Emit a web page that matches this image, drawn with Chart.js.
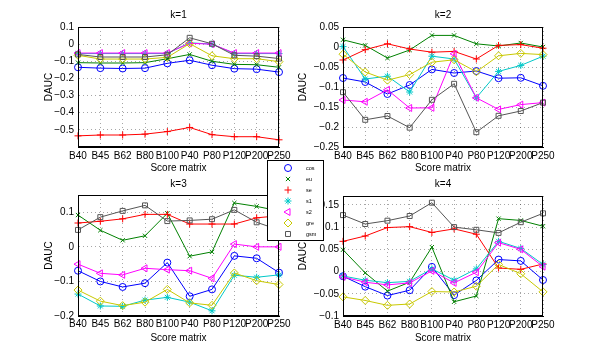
<!DOCTYPE html>
<html>
<head>
<meta charset="utf-8">
<script src="https://cdn.jsdelivr.net/npm/chart.js@4"></script>
<style>
  body { margin: 0; background: #fff; }
  #wrap { position: relative; width: 600px; height: 356px; overflow: hidden; font-family: "Liberation Sans", Arial, sans-serif; }
  canvas.panel { position: absolute; }
  #legend { position: absolute; left: 267px; top: 160px; width: 55px; height: 79px; background: #fff; border: 1px solid #000; z-index: 5; }
  #legend canvas { position: absolute; left: 0; top: 0; }
  #legend span { position: absolute; left: 38px; font-size: 5.5px; line-height: 6px; color: #000; }
</style>
</head>
<body>
<div id="wrap">
  <canvas id="c1" class="panel" width="300" height="178" style="left:0;top:0"></canvas>
  <canvas id="c2" class="panel" width="310" height="178" style="left:290px;top:0"></canvas>
  <canvas id="c3" class="panel" width="300" height="178" style="left:0;top:170px"></canvas>
  <canvas id="c4" class="panel" width="310" height="178" style="left:290px;top:170px"></canvas>
  <div id="legend"><canvas id="legendMarks" width="55" height="79"></canvas></div>
</div>
<script>
// x categories and series names
const categories = ['B40', 'B45', 'B62', 'B80', 'B100', 'P40', 'P80', 'P120', 'P200', 'P250'];
const seriesNames = ['cos', 'eu', 'se', 's1', 's2', 'gre', 'gsm'];

// k=1
const k1Cos = [-0.135, -0.14, -0.142, -0.14, -0.112, -0.094, -0.123, -0.143, -0.146, -0.163];
const k1Eu  = [-0.108, -0.11, -0.11, -0.108, -0.085, -0.06, -0.1, -0.118, -0.12, -0.135];
const k1Se  = [-0.535, -0.53, -0.53, -0.525, -0.51, -0.486, -0.528, -0.54, -0.54, -0.558];
const k1S1  = [-0.055, -0.055, -0.055, -0.055, -0.055, 0.008, 0.0, -0.055, -0.055, -0.055];
const k1S2  = [-0.052, -0.052, -0.052, -0.052, -0.052, 0.005, 0.0, -0.052, -0.052, -0.052];
const k1Gre = [-0.065, -0.087, -0.087, -0.087, -0.077, 0.003, -0.068, -0.085, -0.085, -0.102];
const k1Gsm = [-0.06, -0.075, -0.075, -0.075, -0.062, 0.037, 0.002, -0.065, -0.07, -0.084];

// k=2
const k2Cos = [-0.0775, -0.0875, -0.1175, -0.095, -0.056, -0.065, -0.06, -0.078, -0.077, -0.097];
const k2Eu  = [0.018, 0.004, -0.0275, -0.0075, 0.029, 0.029, 0.008, 0.0025, 0.01, 0.0];
const k2Se  = [-0.0325, -0.0067, 0.008, -0.005, -0.013, -0.011, -0.03, 0.004, 0.006, -0.003];
const k2S1  = [0.001, -0.08, -0.073, -0.1125, -0.023, -0.03, -0.127, -0.061, -0.046, -0.023];
const k2S2  = [-0.1325, -0.137, -0.107, -0.1525, -0.152, -0.017, -0.127, -0.156, -0.144, -0.139];
const k2Gre = [-0.018, -0.0625, -0.083, -0.069, -0.038, -0.032, -0.062, -0.022, -0.016, -0.019];
const k2Gsm = [-0.113, -0.182, -0.1725, -0.2017, -0.132, -0.092, -0.213, -0.172, -0.16, -0.139];

// k=3
const k3Cos = [-0.069, -0.1, -0.116, -0.105, -0.0455, -0.143, -0.123, -0.026, -0.033, -0.0745];
const k3Eu  = [0.092, 0.048, 0.019, 0.032, 0.097, -0.027, -0.0145, 0.127, 0.117, 0.104];
const k3Se  = [0.069, 0.074, 0.081, 0.094, 0.094, 0.066, 0.066, 0.066, 0.084, 0.09];
const k3S1  = [-0.1365, -0.171, -0.172, -0.154, -0.146, -0.16, -0.185, -0.082, -0.088, -0.081];
const k3S2  = [-0.05, -0.0765, -0.081, -0.062, -0.066, -0.069, -0.091, 0.008, 0.0, 0.0];
const k3Gre = [-0.125, -0.157, -0.17, -0.16, -0.123, -0.162, -0.169, -0.0755, -0.098, -0.109];
const k3Gsm = [0.049, 0.086, 0.104, 0.12, 0.0745, 0.0765, 0.08, 0.107, 0.071, 0.049];

// k=4
const k4Cos = [-0.0105, -0.034, -0.054, -0.042, 0.0105, -0.053, -0.02, 0.027, 0.024, -0.019];
const k4Eu  = [0.049, -0.003, -0.044, -0.024, 0.055, -0.068, -0.055, 0.119, 0.115, 0.102];
const k4Se  = [0.068, 0.08, 0.099, 0.101, 0.088, 0.096, 0.084, 0.008, 0.005, 0.017];
const k4S1  = [-0.01, -0.0195, -0.025, -0.022, 0.006, -0.0195, 0.006, 0.068, 0.052, 0.016];
const k4S2  = [-0.012, -0.024, -0.03, -0.0255, 0.0015, -0.0255, -0.0015, 0.065, 0.05, 0.011];
const k4Gre = [-0.057, -0.065, -0.076, -0.073, -0.045, -0.046, -0.033, 0.016, -0.005, -0.0457];
const k4Gsm = [0.127, 0.107, 0.1145, 0.125, 0.155, 0.1, 0.094, 0.087, 0.111, 0.131];

// marker/colour per series (matlab-ish)
const seriesStyles = [
  { color: '#0000ff', pointStyle: 'circle', radius: 3.5, rotation: 0 },
  { color: '#008000', pointStyle: 'crossRot', radius: 3, rotation: 0 },
  { color: '#ff0000', pointStyle: 'cross', radius: 3.5, rotation: 0 },
  { color: '#00c8c8', pointStyle: 'star', radius: 3.5, rotation: 0 },
  { color: '#ff00ff', pointStyle: 'triangle', radius: 4, rotation: -90 },
  { color: '#c8c800', pointStyle: 'rectRot', radius: 4, rotation: 0 },
  { color: '#555555', pointStyle: 'rect', radius: 3.5, rotation: 0 }
];

const FONT = { family: '"Liberation Sans", Arial, sans-serif', size: 10, lineHeight: 1.2 };

function fmt(v) {
  const r = Math.round(v * 1000) / 1000;
  if (Math.abs(r) < 1e-9) return '0';
  return String(r).replace('-', '\u2212');
}

// black box around the plot area, like matlab "box on"
const boxBorder = {
  id: 'boxBorder',
  afterDraw(chart) {
    const a = chart.chartArea, ctx = chart.ctx;
    ctx.save();
    ctx.strokeStyle = '#000';
    ctx.lineWidth = 1;
    ctx.strokeRect(Math.round(a.left) + 0.5, Math.round(a.top) + 0.5,
      Math.round(a.right - a.left) - 1, Math.round(a.bottom - a.top) - 1);
    ctx.restore();
  }
};

function makePanel(id, title, series, y, lay) {
  const datasets = series.map((vals, i) => {
    const s = seriesStyles[i];
    return {
      label: seriesNames[i],
      data: vals,
      borderColor: s.color,
      borderWidth: 1,
      pointStyle: s.pointStyle,
      pointRadius: s.radius,
      pointRotation: s.rotation,
      pointBorderColor: s.color,
      pointBackgroundColor: 'rgba(0,0,0,0)',
      pointBorderWidth: 1,
      tension: 0,
      clip: false,
      order: seriesNames.length - i
    };
  });

  return new Chart(document.getElementById(id), {
    type: 'line',
    data: { labels: categories, datasets: datasets },
    options: {
      responsive: false,
      animation: false,
      events: [],
      layout: { padding: { left: 0, right: lay.right, top: 0, bottom: 0 } },
      plugins: {
        legend: { display: false },
        tooltip: { enabled: false },
        title: {
          display: true, text: title, color: '#000', fullSize: false,
          font: Object.assign({}, FONT, { weight: 'normal' }),
          padding: { top: lay.titleTop, bottom: lay.titleBottom }
        }
      },
      scales: {
        x: {
          type: 'category',
          offset: false,
          grid: { color: 'rgba(0,0,0,0.35)', tickLength: 0, drawTicks: false },
          border: { color: '#000', dash: [1, 3], display: true },
          ticks: { color: '#000', font: FONT, autoSkip: false, maxRotation: 0, minRotation: 0, padding: lay.xTickPad },
          title: { display: true, text: 'Score matrix', color: '#000', font: FONT, padding: { top: 0, bottom: lay.xTitlePad } },
          afterFit: (scale) => { scale.height = lay.xHeight; }
        },
        y: {
          type: 'linear',
          min: y.min, max: y.max,
          grid: { color: 'rgba(0,0,0,0.35)', tickLength: 0, drawTicks: false },
          border: { color: '#000', dash: [1, 3] },
          ticks: {
            color: '#000', font: FONT, stepSize: y.step, includeBounds: false, autoSkip: false, padding: 4,
            callback: (v) => (y.hide.some(h => Math.abs(h - v) < 1e-9) ? '' : fmt(v))
          },
          title: { display: true, text: 'DAUC', color: '#000', font: FONT, padding: { top: lay.yTitlePad, bottom: 0 } },
          afterFit: (scale) => { scale.width = lay.yWidth; }
        }
      }
    },
    plugins: [boxBorder]
  });
}

makePanel('c1', 'k=1', [k1Cos, k1Eu, k1Se, k1S1, k1S2, k1Gre, k1Gsm],
  { min: -0.6, max: 0.1, step: 0.1, hide: [-0.6] },
  { right: 21, titleTop: 9, titleBottom: 6, xTickPad: 3, xTitlePad: 4, xHeight: 31, yWidth: 78, yTitlePad: 43 });

makePanel('c2', 'k=2', [k2Cos, k2Eu, k2Se, k2S1, k2S2, k2Gre, k2Gsm],
  { min: -0.25, max: 0.05, step: 0.05, hide: [] },
  { right: 57, titleTop: 9, titleBottom: 6, xTickPad: 3, xTitlePad: 4, xHeight: 31, yWidth: 53, yTitlePad: 7 });

makePanel('c3', 'k=3', [k3Cos, k3Eu, k3Se, k3S1, k3S2, k3Gre, k3Gsm],
  { min: -0.2, max: 0.15, step: 0.1, hide: [] },
  { right: 21, titleTop: 8, titleBottom: 5, xTickPad: 2, xTitlePad: 4, xHeight: 32, yWidth: 78, yTitlePad: 43 });

makePanel('c4', 'k=4', [k4Cos, k4Eu, k4Se, k4S1, k4S2, k4Gre, k4Gsm],
  { min: -0.1, max: 0.17, step: 0.05, hide: [] },
  { right: 57, titleTop: 8, titleBottom: 6, xTickPad: 3, xTitlePad: 4, xHeight: 32, yWidth: 53, yTitlePad: 7 });

// shared legend box sitting over the middle of the figure
const legendDiv = document.getElementById('legend');
const lctx = document.getElementById('legendMarks').getContext('2d');
seriesNames.forEach((name, i) => {
  const s = seriesStyles[i];
  const cy = 7 + i * 11;
  lctx.save();
  lctx.strokeStyle = s.color;
  lctx.fillStyle = 'rgba(0,0,0,0)';
  lctx.lineWidth = 1;
  Chart.helpers.drawPoint(lctx, { pointStyle: s.pointStyle, radius: s.radius, rotation: s.rotation, borderWidth: 1 }, 20, cy);
  lctx.restore();
  const span = document.createElement('span');
  span.textContent = name;
  span.style.top = (cy - 3) + 'px';
  legendDiv.appendChild(span);
});
</script>
</body>
</html>
